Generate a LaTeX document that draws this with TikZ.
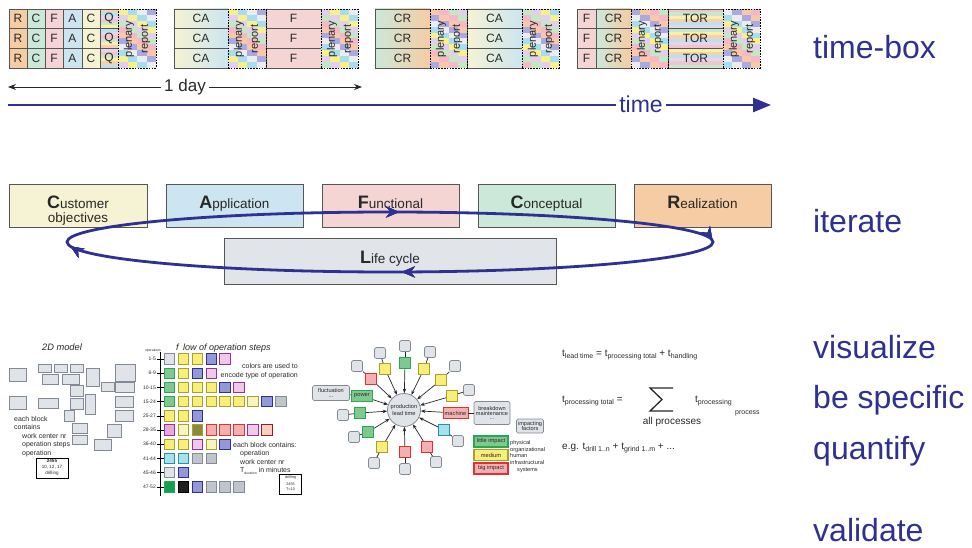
\documentclass[tikz,border=0pt]{standalone}
\usepackage{fontspec}
\setmainfont{Liberation Sans}
\usetikzlibrary{arrows.meta,decorations.markings}

\definecolor{navy}{RGB}{46,49,146}
\definecolor{cuY}{RGB}{245,243,212}
\definecolor{apB}{RGB}{204,229,240}
\definecolor{fuP}{RGB}{245,212,212}
\definecolor{coG}{RGB}{204,232,216}
\definecolor{reO}{RGB}{246,204,164}
\definecolor{lcG}{RGB}{225,228,233}
\definecolor{edge}{RGB}{85,85,85}
\definecolor{ink}{RGB}{40,40,40}
% mosaic palette of the plenary slots
\definecolor{mo0}{RGB}{244,184,200}
\definecolor{mo1}{RGB}{248,240,140}
\definecolor{mo2}{RGB}{170,170,226}
\definecolor{mo3}{RGB}{196,232,196}
\definecolor{mo4}{RGB}{168,220,240}
\definecolor{mo5}{RGB}{248,200,168}
\definecolor{mo6}{RGB}{228,206,240}
\definecolor{mo7}{RGB}{236,236,236}
% stripe palette
\definecolor{st0}{RGB}{244,196,204}
\definecolor{st1}{RGB}{200,232,204}
\definecolor{st2}{RGB}{248,240,168}
\definecolor{st3}{RGB}{248,208,176}
\definecolor{st4}{RGB}{188,224,240}
\definecolor{st5}{RGB}{224,214,240}
% block colours
\definecolor{gyF}{RGB}{224,227,232}
\definecolor{gyD}{RGB}{130,138,150}
\definecolor{gBF}{RGB}{192,196,204}
\definecolor{ylF}{RGB}{248,238,120}
\definecolor{ylD}{RGB}{168,160,48}
\definecolor{lyF}{RGB}{248,244,192}
\definecolor{blF}{RGB}{146,152,216}
\definecolor{blD}{RGB}{48,48,144}
\definecolor{pkF}{RGB}{240,200,232}
\definecolor{pkD}{RGB}{150,48,160}
\definecolor{grF}{RGB}{128,200,144}
\definecolor{grD}{RGB}{40,168,80}
\definecolor{mgF}{RGB}{232,168,216}
\definecolor{olF}{RGB}{138,138,56}
\definecolor{rdF}{RGB}{244,176,176}
\definecolor{rdD}{RGB}{224,48,48}
\definecolor{pcF}{RGB}{248,208,192}
\definecolor{pcD}{RGB}{144,32,32}
\definecolor{cyF}{RGB}{168,224,240}
\definecolor{cyD}{RGB}{32,150,170}
\definecolor{dgF}{RGB}{16,160,80}

\newcommand\fsz[1]{\fontsize{#1}{#1}\selectfont}
\newcommand\Ini[1]{{\fsz{18}\bfseries #1}}
\newcommand\sbs[1]{\raisebox{-0.5ex}{\fsz{7}#1}}

\tikzset{
  tbcell/.style={draw=edge, line width=0.8pt, inner sep=0pt, outer sep=0pt,
    minimum height=19.67pt, text=ink, font={\fsz{12}}},
  plen/.style={draw=black, line width=0.7pt, dash pattern=on 1.6pt off 1.2pt,
    inner sep=0pt, outer sep=0pt, minimum height=59pt},
  plentxt/.style={font={\fsz{11}}, text=ink, inner sep=0pt},
  cafbox/.style={draw=edge, line width=0.8pt, minimum height=43pt, inner sep=0pt, anchor=north west},
  caftxt/.style={font={\fsz{13.5}}, text=ink, inner sep=0pt, anchor=base},
  sidelbl/.style={font={\fsz{32}}, text=navy, inner sep=0pt, anchor=base west},
  blk2d/.style={fill=gyF, draw=gyD, line width=0.7pt},
  small/.style={font={\fsz{7}}, text=ink, inner sep=0pt, anchor=base west},
  fcell/.style={minimum size=10.5pt, inner sep=0pt, line width=0.8pt},
  gA/.style={fill=gyF, draw=gyD}, gB/.style={fill=gBF, draw=gyD},
  yl/.style={fill=ylF, draw=ylD}, ly/.style={fill=lyF, draw=ylD},
  bl/.style={fill=blF, draw=blD}, pk/.style={fill=pkF, draw=pkD},
  gr/.style={fill=grF, draw=grD}, mg/.style={fill=mgF, draw=pkD},
  ol/.style={fill=olF, draw=ylD}, rd/.style={fill=rdF, draw=rdD},
  pc/.style={fill=pcF, draw=pcD}, cy/.style={fill=cyF, draw=cyD},
  dg/.style={fill=dgF, draw=grD}, bk/.style={fill=black!88, draw=black},
  rowlbl/.style={font={\fsz{5}}, text=ink, inner sep=0pt, anchor=east},
  gbox/.style={fill=gyF, draw=gyD, line width=0.7pt, rounded corners=1.5pt,
    minimum size=11pt, inner sep=0pt, font={\fsz{5.6}}, text=ink, align=center},
  sq/.style={minimum size=11pt, inner sep=0pt, line width=0.9pt, font={\fsz{5.7}}, text=ink},
  spoke/.style={draw=ink, line width=0.7pt},
  frm/.style={font={\fsz{10}}, text=ink, inner sep=0pt, anchor=base west},
  looptip/.style={decoration={markings, mark=at position #1 with
      {\arrow{Stealth[length=13pt,width=11pt]}}}, postaction={decorate}},
}

% one cell of a time-box row: name, x left, x right, row, style, text
\newcommand\tbcell[6]{%
  \pgfmathsetmacro\cw{#3-#2}%
  \pgfmathsetmacro\cy{9+#4*19.67}%
  \node[tbcell,#5,minimum width=\cw pt,anchor=north west] (#1) at (#2,\cy) {#6};}

% horizontal pastel stripes: x left, x right, y top, offset
\newcommand\stripes[4]{%
  \foreach \k in {0,...,5}{%
    \pgfmathtruncatemacro\si{mod(\k+#4,6)}%
    \fill[st\si] (#1,{#3+\k*3.278}) rectangle (#2,{#3+(\k+1)*3.278});}}

% plenary / report slot: name, x left, x right
\newcommand\plenary[3]{%
  \pgfmathsetmacro\pw{(#3-#2)/4}%
  \foreach \i in {0,...,3}{\foreach \j in {0,...,9}{%
    \pgfmathtruncatemacro\ci{mod(\i*3+\j*5+round(#2/7),8)}%
    \fill[mo\ci] ({#2+\i*\pw},{9+\j*5.9}) rectangle ++(\pw,5.9);}}%
  \pgfmathsetmacro\cw{#3-#2}%
  \node[plen,minimum width=\cw pt,anchor=north west] (#1) at (#2,9) {};
  \node[plentxt,rotate=90] (#1a) at ({#2+11},39) {plenary};
  \node[plentxt,rotate=90] (#1b) at ({#2+27.5},39) {report};}

\begin{document}
\begin{tikzpicture}[x=1pt,y=-1pt]
\useasboundingbox (0,0) rectangle (972,548);

% ---------------- time-boxes ----------------
\foreach \r in {0,1,2}{
  \pgfmathsetmacro\ry{9+\r*19.67}
  \stripes{100}{118}{\ry}{\r+3}
  \stripes{668}{723}{\ry}{\r}
  \tbcell{aR\r}{9}{27}{\r}{fill=reO}{R}
  \tbcell{aC\r}{27}{45}{\r}{fill=coG}{C}
  \tbcell{aF\r}{45}{63}{\r}{fill=fuP}{F}
  \tbcell{aA\r}{63}{82}{\r}{fill=apB}{A}
  \tbcell{aK\r}{82}{100}{\r}{fill=cuY}{C}
  \tbcell{aQ\r}{100}{118}{\r}{}{Q}
  \tbcell{bCA\r}{174}{228}{\r}{left color=cuY,right color=apB}{CA}
  \tbcell{bF\r}{266}{321}{\r}{fill=fuP}{F}
  \tbcell{cCR\r}{375}{430}{\r}{left color=coG,right color=reO}{CR}
  \tbcell{cCA\r}{467}{522}{\r}{left color=cuY,right color=apB}{CA}
  \tbcell{dF\r}{577}{596}{\r}{fill=fuP}{F}
  \tbcell{dCR\r}{596}{631}{\r}{left color=coG,right color=reO}{CR}
  \tbcell{dT\r}{668}{723}{\r}{}{TOR}
}
\plenary{pa}{118}{156}
\plenary{pb}{228}{266}
\plenary{pc}{321}{358}
\plenary{pd}{430}{467}
\plenary{pe}{522}{559}
\plenary{pf}{631}{668}
\plenary{pg}{723}{760}

% ---------------- time axis ----------------
\node[font={\fsz{17}}, text=ink, inner sep=3pt] (day) at (185,87) {1 day};
\coordinate (dayL) at (8,87);
\coordinate (dayR) at (362,87);
\draw[ink, line width=0.8pt, -{Stealth[length=8pt,width=6pt]}] (day) -- (dayL);
\draw[ink, line width=0.8pt, -{Stealth[length=8pt,width=6pt]}] (day) -- (dayR);

\node[font={\fsz{23}}, text=navy, inner sep=3pt] (time) at (641,104) {time};
\coordinate (t0) at (8,105);
\coordinate (t1) at (771,105);
\draw[navy, line width=2.6pt] (t0) -- (t0 -| time.west);
\draw[navy, line width=2.6pt, -{Triangle[length=18pt,width=14pt]}] (time.east |- t1) -- (t1);

% ---------------- CAFCR views ----------------
\node[cafbox, fill=cuY, minimum width=138pt] (cust) at (9,184) {};
\node[cafbox, fill=apB, minimum width=137pt] (appl) at (166,184) {};
\node[cafbox, fill=fuP, minimum width=137pt] (func) at (322,184) {};
\node[cafbox, fill=coG, minimum width=137pt] (conc) at (478,184) {};
\node[cafbox, fill=reO, minimum width=137pt] (real) at (634,184) {};
\node[cafbox, fill=lcG, minimum width=332pt, minimum height=46pt] (life) at (224,238) {};
\node[caftxt] (custT) at (78,208.5) {\Ini{C}ustomer};
\node[caftxt] (custT2) at (78,223) {objectives};
\node[caftxt] (applT) at (234.5,208.5) {\Ini{A}pplication};
\node[caftxt] (funcT) at (390.5,208.5) {\Ini{F}unctional};
\node[caftxt] (concT) at (546.5,208.5) {\Ini{C}onceptual};
\node[caftxt] (realT) at (702.5,208.5) {\Ini{R}ealization};
\node[caftxt] (lifeT) at (390,263) {\Ini{L}ife cycle};

% iteration loop, run clockwise: right end, bottom, left end, top
\draw[navy, line width=2.8pt, looptip=0.241, looptip=0.4955, looptip=0.757, looptip=0.9985]
  (390,242) ellipse [x radius=323, y radius=30];

% ---------------- side labels ----------------
\node[sidelbl] (lTB) at (813,59) {time-box};
\node[sidelbl] (lIT) at (813,233) {iterate};
\node[sidelbl] (lVI) at (813,358) {visualize};
\node[sidelbl] (lBS) at (813,408) {be specific};
\node[sidelbl] (lQU) at (813,459) {quantify};
\node[sidelbl] (lVA) at (813,541) {validate};

% ---------------- 2D model ----------------
\node[font={\fsz{9.3}\itshape}, text=ink] (m2d) at (62,347) {2D model};
\foreach \xa/\ya/\xb/\yb in {9/368/26/381, 38/364/51/372, 54/364/67/372, 70/364/83/372,
    42/374/58/384, 62/374/79/384, 86/368/99/386, 115/364/135/381, 101/382/114/391,
    115/382/134/392, 70/385/83/396, 9/396/26/409, 38/398/58/408, 70/398/83/409,
    85/394/95/414, 115/396/133/407, 115/410/133/421, 64/410/74/421, 72/423/87/433,
    107/424/121/437, 72/435/87/444, 94/439/111/450}
  \draw[blk2d] (\xa,\ya) rectangle (\xb,\yb);
\node[small] (mt1) at (14,421) {each block};
\node[small] (mt2) at (14,429) {contains};
\node[small] (mt3) at (22,438) {work center nr};
\node[small] (mt4) at (22,446.5) {operation steps};
\node[small] (mt5) at (22,455) {operation};
\node[draw=black, line width=1pt, minimum width=32pt, minimum height=20pt, inner sep=0pt] (mcard) at (52,468) {};
\node[font={\fsz{4.6}\bfseries}, text=ink] (mc1) at (52,461) {2455};
\node[font={\fsz{4.6}}, text=ink] (mc2) at (52,467) {10, 12, 17};
\node[font={\fsz{4.6}}, text=ink] (mc3) at (52,473.5) {drilling};

% ---------------- flow of operation steps ----------------
\node[font={\fsz{3.4}}, text=ink, inner sep=0pt] (ops) at (153,351) {operations};
\node[font={\fsz{9}\itshape}, text=ink, inner sep=0pt, anchor=base west] (fl1) at (176,350) {f};
\node[font={\fsz{9}\itshape}, text=ink, inner sep=0pt, anchor=base west] (fl2) at (183,350) {low of operation steps};
\coordinate (axT) at (160,352);
\coordinate (axB) at (160,496);
\draw[black, line width=0.9pt] (axT) -- (axB);
\foreach \lab [count=\r from 0] in {1-5,6-9,10-15,15-24,25-27,28-35,36-40,41-44,45-46,47-52}{
  \pgfmathsetmacro\yy{359+\r*14.2}
  \node[rowlbl] (rl\r) at (156,\yy) {\lab};
  \draw[black, line width=0.6pt] (156.5,\yy) -- (163.5,\yy);
}
\foreach \row [count=\r from 0] in {
   {gA,yl,yl,bl,pk},
   {gr,yl,bl,pk},
   {gr,yl,yl,yl,bl,pk},
   {gr,yl,yl,yl,yl,yl,ly,bl,gB},
   {yl,yl,bl},
   {mg,ly,ol,rd,rd,rd,pk,pc},
   {yl,yl,pk,ly,bl},
   {cy,cy,gB,gB},
   {gA,bl},
   {dg,bk,bl,gB,gB,gB}}{
  \foreach \st [count=\c from 0] in \row {
    \node[fcell,\st] (f\r-\c) at ({169.5+\c*13.9},{359+\r*14.2}) {};
  }
}
\node[small, anchor=base east] (ft1) at (298,368.5) {colors are used to};
\node[small, anchor=base east] (ft2) at (298,377) {encode type of operation};
\node[small] (ft3) at (233,447) {each block contains:};
\node[small] (ft4) at (240,455.5) {operation};
\node[small] (ft5) at (240,464) {work center nr};
\node[small] (ft6) at (240,472) {T\raisebox{-0.6ex}{\fsz{3.4}duration} in minutes};
\node[draw=black, line width=0.9pt, minimum width=22pt, minimum height=20pt, inner sep=0pt] (fcard) at (290.5,484) {};
\node[font={\fsz{3.8}}, text=ink] (fc1) at (290.5,478) {drilling};
\node[font={\fsz{3.8}}, text=ink] (fc2) at (290.5,484) {2455};
\node[font={\fsz{3.8}}, text=ink] (fc3) at (290.5,489.5) {T=10};

% ---------------- lead time factors ----------------
\node[circle, fill=gyF, draw=gyD, line width=0.8pt, minimum size=33pt, inner sep=0pt,
      font={\fsz{5.7}}, text=ink, align=center] (pl) at (404,410) {production\\[1pt]lead time};
\foreach \n/\sx/\sy/\sc/\gx/\gy in {
    a/405/363/gr/405/346, b/385/369/yl/380/353, c/424/369/yl/430/352,
    d/371/379/rd/357/366, e/441/380/yl/455/366, f/452/396/yl/469/390,
    g/360/413/gr/343/415, h/368/432/gr/354/437, i/444/430/cy/458/441,
    j/382/447/yl/374/463, k/405/452/rd/405/469, l/427/447/rd/436/462}{
  \node[gbox] (g\n) at (\gx,\gy) {};
  \node[sq,\sc] (s\n) at (\sx,\sy) {};
  \draw[spoke] (g\n) -- (s\n);
  \draw[spoke, -{Stealth[length=4.5pt,width=3.5pt]}] (s\n) -- (pl);
}
\node[gbox, minimum width=37pt, minimum height=15pt] (gflu) at (331,393) {fluctuation\\[-1pt]...};
\node[sq, gr, minimum width=21pt] (spow) at (362,396) {power};
\draw[spoke] (gflu) -- (spow);
\draw[spoke, -{Stealth[length=4.5pt,width=3.5pt]}] (spow) -- (pl);
\node[gbox, minimum width=36pt, minimum height=23pt] (gbrk) at (492,413) {breakdown\\[-0.5pt]maintenance\\[-1pt]...};
\node[sq, rd, minimum width=25pt] (smac) at (455.5,413) {machine};
\draw[spoke] (gbrk) -- (smac);
\draw[spoke, -{Stealth[length=4.5pt,width=3.5pt]}] (smac) -- (pl);
\node[gbox, minimum width=27pt, minimum height=14pt] (gimp) at (530,426) {impacting\\[-0.5pt]factors};
\node[sq, gr, line width=1.3pt, minimum width=34pt, minimum height=11pt] (leg1) at (491,441.5) {little impact};
\node[sq, yl, line width=1.3pt, minimum width=34pt, minimum height=11pt] (leg2) at (491,455) {medium};
\node[sq, rd, line width=1.3pt, minimum width=34pt, minimum height=11pt] (leg3) at (491,468.5) {big impact};
\node[font={\fsz{5.6}}, text=ink, inner sep=0pt, anchor=base west] (lg1) at (510,444) {physical};
\node[font={\fsz{5.6}}, text=ink, inner sep=0pt, anchor=base west] (lg2) at (510,451) {organizational};
\node[font={\fsz{5.6}}, text=ink, inner sep=0pt, anchor=base west] (lg3) at (510,457) {human};
\node[font={\fsz{5.6}}, text=ink, inner sep=0pt, anchor=base west] (lg4) at (510,464) {infrastructural};
\node[font={\fsz{5.6}}, text=ink, inner sep=0pt, anchor=base west] (lg5) at (517,471) {systems};

% ---------------- lead time formulas ----------------
\node[frm] (eq1) at (562,356) {t\sbs{lead time} = t\sbs{processing total} + t\sbs{handling}};
\node[frm] (eq2) at (562,402) {t\sbs{processing total} =};
\draw[ink, line width=1.3pt, line join=miter] (673,388) -- (650,388) -- (662,399.5) -- (650,411) -- (673,411);
\node[frm, anchor=base] (eq2s) at (672,424) {all processes};
\node[frm] (eq2r) at (695,402) {t\sbs{processing}};
\node[frm, font={\fsz{7}}] (eq2p) at (735,414) {process};
\node[frm] (eq3) at (562,449) {e.g. t\sbs{drill 1..n} + t\sbs{grind 1..m} + ...};

\end{tikzpicture}
\end{document}
